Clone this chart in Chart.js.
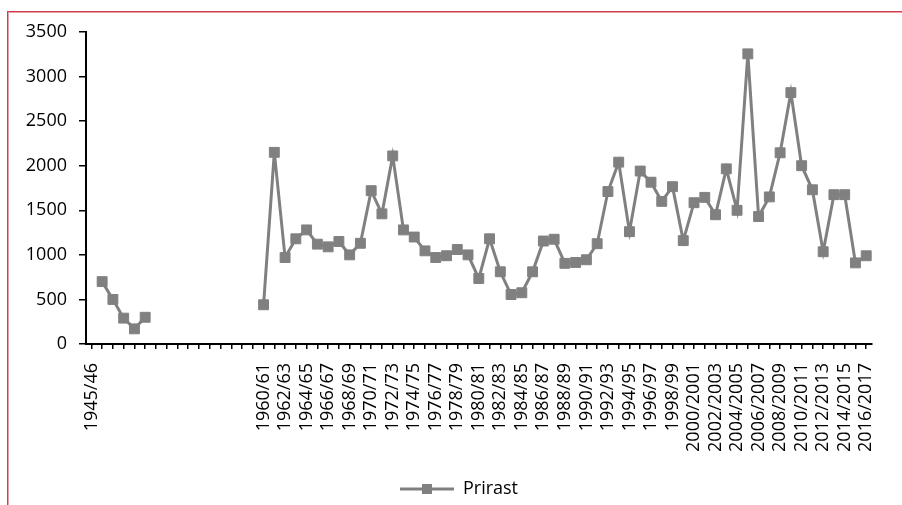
<!DOCTYPE html>
<html>
<head>
<meta charset="utf-8">
<script src="https://cdn.jsdelivr.net/npm/chart.js@4.4.1/dist/chart.umd.min.js"></script>
<style>
  html, body { margin: 0; padding: 0; background: #fff; }
  #wrap { position: relative; width: 902px; height: 505px; }
</style>
</head>
<body>
<div id="wrap"><canvas id="c" width="902" height="505"></canvas></div>
<script>
// ---- data ----
const earlyLabels = ["1945/46", "", "", "", "", "", "", "", "", "", "", "", "", "", "", ""];
const laterLabels = [
  "1960/61","1961/62","1962/63","1963/64","1964/65","1965/66","1966/67","1967/68","1968/69","1969/70",
  "1970/71","1971/72","1972/73","1973/74","1974/75","1975/76","1976/77","1977/78","1978/79","1979/80",
  "1980/81","1981/82","1982/83","1983/84","1984/85","1985/86","1986/87","1987/88","1988/89","1989/90",
  "1990/91","1991/92","1992/93","1993/94","1994/95","1995/96","1996/97","1997/98","1998/99","1999/2000",
  "2000/2001","2001/2002","2002/2003","2003/2004","2004/2005","2005/2006","2006/2007","2007/2008","2008/2009","2009/2010",
  "2010/2011","2011/2012","2012/2013","2013/2014","2014/2015","2015/2016","2016/2017"
];
const categories = earlyLabels.concat(laterLabels);

const earlyValues = [null, 700, 500, 290, 170, 300, null, null, null, null, null, null, null, null, null, null];
const laterValues = [
  440, 2150, 970, 1180, 1280, 1120, 1090, 1150, 1000, 1130,
  1720, 1460, 2110, 1280, 1200, 1045, 970, 990, 1060, 1000,
  735, 1180, 810, 555, 575, 810, 1155, 1175, 905, 915,
  945, 1125, 1710, 2040, 1260, 1940, 1815, 1600, 1765, 1160,
  1585, 1645, 1450, 1965, 1500, 3255, 1430, 1650, 2145, 2820,
  2000, 1730, 1035, 1675, 1675, 910, 990
];
const prirast = earlyValues.concat(laterValues);

const yTicks = [0, 500, 1000, 1500, 2000, 2500, 3000, 3500];
const seriesName = "Prirast";

// ---- styles ----
const GREY = "#808080";
const FONT = "'Open Sans', 'DejaVu Sans', sans-serif";

// legend symbol: line with a square marker
const sym = document.createElement("canvas");
sym.width = 54; sym.height = 12;
(function () {
  const g = sym.getContext("2d");
  g.strokeStyle = GREY; g.lineWidth = 3;
  g.beginPath(); g.moveTo(0, 6); g.lineTo(54, 6); g.stroke();
  g.fillStyle = GREY; g.fillRect(22, 1, 10, 10);
})();

const borderPlugin = {
  id: "frame",
  beforeDraw(chart) {
    const ctx = chart.ctx;
    ctx.save();
    ctx.fillStyle = "#fff";
    ctx.fillRect(0, 0, chart.width, chart.height);
    ctx.fillStyle = "#e7a0a6";
    ctx.fillRect(8, 12, chart.width - 8, 1);
    ctx.fillRect(8, 12, 1, chart.height - 12);
    ctx.fillStyle = "#d63b48";
    ctx.fillRect(7, 11, chart.width - 7, 1);
    ctx.fillRect(7, 11, 1, chart.height - 11);
    ctx.restore();
  }
};

// shift the legend so it is placed like in the reference
const legendShift = {
  id: "legendShift",
  afterLayout(chart) {
    const lg = chart.legend;
    if (lg) { lg.left += 22; lg.right += 22; lg.top += 3; lg.bottom += 3; }
  }
};

new Chart(document.getElementById("c"), {
  type: "line",
  data: {
    labels: categories,
    datasets: [{
      label: seriesName,
      data: prirast,
      borderColor: GREY,
      backgroundColor: GREY,
      borderWidth: 3,
      pointStyle: "rect",
      pointRadius: 7,
      pointBorderWidth: 1,
      pointBorderColor: GREY,
      pointBackgroundColor: GREY,
      spanGaps: false,
      tension: 0
    }]
  },
  options: {
    responsive: false,
    animation: false,
    devicePixelRatio: 1,
    layout: { padding: { left: 0, right: 28, top: 32, bottom: 0 } },
    plugins: {
      legend: {
        position: "bottom",
        labels: {
          usePointStyle: true,
          pointStyle: sym,
          pointStyleWidth: 54,
          boxHeight: 12,
          padding: 0,
          color: "#000",
          font: { family: FONT, size: 18 }
        }
      },
      tooltip: { enabled: false }
    },
    scales: {
      x: {
        type: "category",
        offset: true,
        grid: { offset: false, drawOnChartArea: false, drawTicks: true, tickLength: 5, color: "#000", lineWidth: 1.5 },
        border: { color: "#000", width: 2 },
        afterFit(scale) { scale.height = 133; },
        ticks: {
          autoSkip: false,
          maxRotation: 90,
          minRotation: 90,
          padding: 14,
          color: "#000",
          font: { family: FONT, size: 18 },
          callback(value, index) {
            return index % 2 === 0 ? this.getLabelForValue(value) : "";
          }
        }
      },
      y: {
        min: 0,
        max: 3500,
        afterBuildTicks(scale) { scale.ticks = yTicks.map(v => ({ value: v })); },
        afterFit(scale) { scale.width = 86; },
        grid: { drawOnChartArea: false, drawTicks: true, tickLength: 7, color: "#000", lineWidth: 1.5 },
        border: { color: "#000", width: 2 },
        ticks: {
          padding: 12,
          color: "#000",
          font: { family: FONT, size: 18 },
          callback(value) { return String(value); }
        }
      }
    }
  },
  plugins: [borderPlugin, legendShift]
});
</script>
</body>
</html>
